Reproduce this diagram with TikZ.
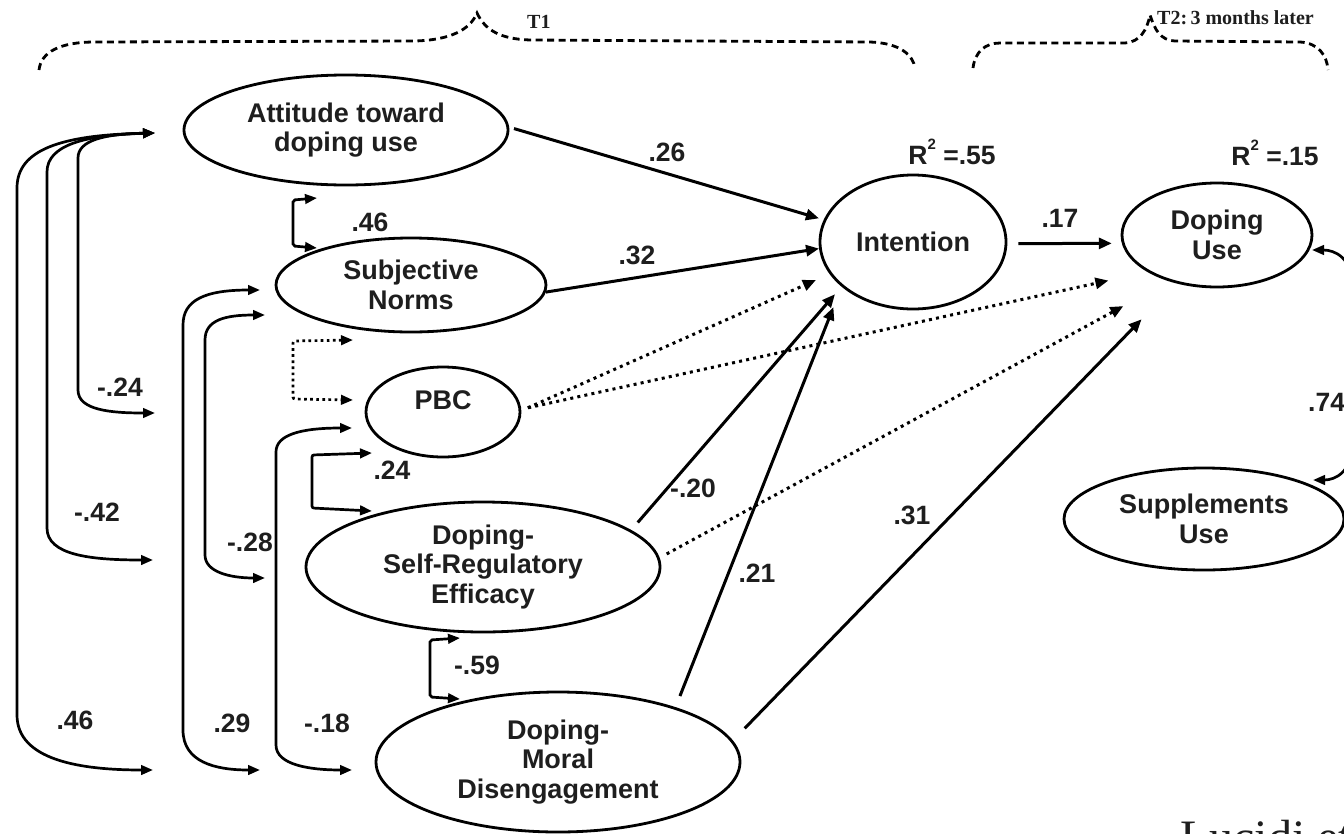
\documentclass[tikz,border=0pt]{standalone}
\usepackage{fontspec}
\setmainfont{Liberation Serif}
\newfontfamily\lsans{Liberation Sans}
\usetikzlibrary{arrows.meta,shapes.geometric,calc}
\definecolor{txt}{HTML}{1E1E1E}
\begin{document}
\begin{tikzpicture}[x=1pt,y=-1pt,
  var/.style={draw, ellipse, line width=2.8pt, inner sep=0pt, align=center,
    font=\lsans\bfseries\fontsize{27}{29.5}\selectfont, text=txt},
  num/.style={font=\lsans\bfseries\fontsize{26.5}{26.5}\selectfont, text=txt, inner sep=0pt},
  tlab/.style={font=\bfseries\fontsize{20}{20}\selectfont, text=txt, inner sep=0pt, anchor=base west},
  conn/.style={line width=3pt, -{Triangle[length=13pt,width=11pt]}},
  dotconn/.style={conn, dash pattern=on 3pt off 4.2pt},
  both/.style={line width=2.7pt, {Triangle[length=12pt,width=9.5pt]}-{Triangle[length=12pt,width=9.5pt]}},
  bothdot/.style={both, dash pattern=on 2.7pt off 3.4pt},
  bracefig/.style={line width=2.8pt, dash pattern=on 7pt off 4.5pt},
  ]
\useasboundingbox (0,0) rectangle (1344,833);
\clip (0,0) rectangle (1344,833);
\fill[white] (0,0) rectangle (1344,833);

% braces and time labels
\draw[bracefig] (39,70) .. controls (41,52) and (60,42) .. (95,42) -- (415,41)
  .. controls (450,40) and (470,30) .. (477,13) .. controls (485,30) and (500,39) .. (530,40)
  -- (870,42) .. controls (900,43) and (913,55) .. (915,68);
\draw[bracefig] (973,68) .. controls (975,52) and (985,43) .. (1000,43) -- (1125,43)
  .. controls (1140,42) and (1147,30) .. (1150,15) .. controls (1155,30) and (1160,40) .. (1175,41)
  -- (1300,42) .. controls (1318,43) and (1327,55) .. (1328,70);
\node[tlab] (t1) at (527,28) {T1};
\node[tlab] (t2) at (1157,24) {T2:\,3 months later};

% variables
\node[var, minimum width=324pt, minimum height=110pt] (att) at (346,130) {Attitude toward\\doping use};
\node[var, minimum width=270pt, minimum height=94pt] (sn) at (411,285) {Subjective\\Norms};
\node[var, minimum width=154pt, minimum height=90pt,
  label={[num, font=\lsans\bfseries\fontsize{27}{27}\selectfont, yshift=12pt]center:PBC}] (pbc) at (443,412) {};
\node[var, minimum width=354pt, minimum height=130pt] (dsre) at (483,567) {Doping-\\Self-Regulatory\\Efficacy};
\node[var, minimum width=364pt, minimum height=140pt] (mde) at (558,762) {Doping-\\Moral\\Disengagement};
\node[var, minimum width=186pt, minimum height=134pt] (int) at (913,242) {Intention};
\node[var, minimum width=190pt, minimum height=104pt] (du) at (1217,235) {Doping\\Use};
\node[var, minimum width=280pt, minimum height=102pt] (sup) at (1204,519) {Supplements\\Use};

% R squared
\node[num] (r55) at (952,152) {R\raisebox{0.55em}{\fontsize{15}{15}\selectfont 2} =.55};
\node[num] (r15) at (1275,153) {R\raisebox{0.55em}{\fontsize{15}{15}\selectfont 2} =.15};

% directed paths
\draw[conn, shorten <=5pt, shorten >=5pt] (att.1) -- (int.166);
\draw[conn] (sn.-3) -- (int.184);
\draw[dotconn, shorten <=7pt, shorten >=15pt] (pbc.1) -- (int.201);
\draw[dotconn, shorten <=7pt, shorten >=40pt] (pbc.2) -- (du.208);
\draw[conn, shorten <=10pt, shorten >=10pt] (dsre.14) -- (int.212);
\draw[dotconn, shorten <=8pt, shorten >=52pt] (dsre.3) -- (du.224);
\draw[conn, shorten <=12pt, shorten >=22pt] (mde.25) -- (int.212);
\draw[conn, shorten <=17pt, shorten >=50pt] (mde.7) -- (du.230);
\draw[conn, shorten <=11pt, shorten >=10pt] (int.-1) -- (du.185.5);

% free ends of the correlation arrows
\coordinate (aA) at (155,133);
\coordinate (mA) at (153,770);
\coordinate (dA) at (153,560);
\coordinate (pA) at (155,413);
\coordinate (sB1) at (260,290);
\coordinate (mB) at (260,770);
\coordinate (sB2) at (265,315);
\coordinate (dB) at (265,578);
\coordinate (pC) at (352,428);
\coordinate (mC) at (352,770);
\coordinate (a46) at (317,198);
\coordinate (s46) at (317,248);
\coordinate (sdot) at (353,340);
\coordinate (pdot) at (353,400);
\coordinate (p24) at (372,453);
\coordinate (d24) at (372,511);
\coordinate (d59) at (460,638);
\coordinate (m59) at (460,699);
\coordinate (du74) at (1312,250);
\coordinate (su74) at (1313,480);

% correlations
\draw[both] (aA) .. controls (60,135) and (17,150) .. (17,188) -- (17,715) .. controls (17,760) and (80,770) .. (mA);
\draw[both] (aA) .. controls (85,135) and (47,145) .. (47,172) -- (47,528) .. controls (47,555) and (90,560) .. (dA);
\draw[both] (aA) .. controls (105,134) and (78,140) .. (78,158) -- (78,390) .. controls (78,410) and (110,413) .. (pA);
\draw[both] (sB1) .. controls (205,290) and (183,300) .. (183,325) -- (183,730) .. controls (183,762) and (215,770) .. (mB);
\draw[both] (sB2) .. controls (225,315) and (205,320) .. (205,340) -- (205,555) .. controls (205,572) and (230,578) .. (dB);
\draw[both] (pC) .. controls (300,428) and (276,435) .. (276,452) -- (276,745) .. controls (276,765) and (310,770) .. (mC);
\draw[both, rounded corners=2pt] (a46) -- (293,200) -- (293,246) -- (s46);
\draw[bothdot, rounded corners=2pt] (sdot) -- (293,341) -- (293,399) -- (pdot);
\draw[both, rounded corners=2pt] (p24) -- (312,455) -- (312,508) -- (d24);
\draw[both, rounded corners=2pt] (d59) -- (430,640) -- (430,697) -- (m59);
\draw[both] (du74) .. controls (1335,250) and (1352,258) .. (1352,285) -- (1352,445) .. controls (1352,472) and (1335,480) .. (su74);

% coefficients
\node[num] (l26) at (667,152) {.26};
\node[num] (l32) at (637,255) {.32};
\node[num] (l17) at (1060,218) {.17};
\node[num] (l46a) at (370,222) {.46};
\node[num] (l24m) at (120,387) {-.24};
\node[num] (l42) at (97,512) {-.42};
\node[num] (l28) at (250,542) {-.28};
\node[num] (l46b) at (75,720) {.46};
\node[num] (l29) at (232,723) {.29};
\node[num] (l18) at (327,723) {-.18};
\node[num] (l24) at (392,470) {.24};
\node[num] (l59) at (477,665) {-.59};
\node[num] (l20) at (693,488) {-.20};
\node[num] (l21) at (757,573) {.21};
\node[num] (l31) at (912,515) {.31};
\node[num, anchor=west] (l74) at (1308,402) {.74};

% citation, cut by the frame as in the reference
\node[font=\fontsize{48}{48}\selectfont, anchor=base west, inner sep=0pt, text=txt] (cite) at (1180,853) {Lucidi et al.};
\end{tikzpicture}
\end{document}
